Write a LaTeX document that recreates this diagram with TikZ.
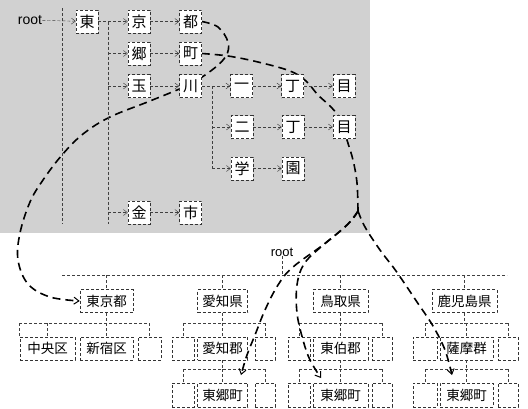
\documentclass[tikz,border=0pt]{standalone}
\usepackage{fontspec}
\setmainfont{Liberation Sans}
\newfontfamily\jp{Noto Sans CJK JP}
\usetikzlibrary{arrows.meta}
\pgfdeclarelayer{back}
\pgfdeclarelayer{curves}
\pgfsetlayers{back,curves,main}
\begin{document}
\begin{tikzpicture}[x=1pt,y=-1pt,
  tbox/.style={draw=black!80, densely dashed, line width=0.55pt, fill=white, minimum width=22pt, minimum height=23pt, inner sep=0pt, font=\jp\fontsize{15}{15}\selectfont},
  tline/.style={draw=black!75, densely dashed, line width=0.45pt},
  tarr/.style={tline, -{Straight Barb[length=4pt,width=6pt]}},
  bbox/.style={draw=black!80, densely dashed, line width=0.55pt, minimum height=23pt, inner sep=0pt, font=\jp\fontsize{13.5}{13.5}\selectfont},
  ebox/.style={bbox, minimum width=22pt},
  bline/.style={draw=black!75, densely dashed, line width=0.45pt},
  big/.style={draw=black, line width=1.6pt, dash pattern=on 8pt off 5pt},
  bigarr/.style={big, -{Straight Barb[length=5pt,width=7pt,line width=1pt]}},
  lbl/.style={inner sep=0pt}
]
\useasboundingbox (0,0) rectangle (528,408);
\begin{pgfonlayer}{back}
\fill[black!18] (0,0) rectangle (370,233);
\end{pgfonlayer}

% ---------- trie ----------
\node[lbl, font=\fontsize{14}{14}\selectfont] (root1) at (30,20) {root};
\node[tbox] (t1) at (87,21.5) {東};
\node[tbox] (kyo) at (139,21.5) {京};
\node[tbox] (to) at (190.5,21.5) {都};
\node[tbox] (gou) at (139,53.5) {郷};
\node[tbox] (machi) at (190.5,53.5) {町};
\node[tbox] (tama) at (139,86) {玉};
\node[tbox] (kawa) at (190.5,86) {川};
\node[tbox] (ichi) at (241.5,86) {一};
\node[tbox] (cho1) at (292.5,86) {丁};
\node[tbox] (me1) at (344,86) {目};
\node[tbox] (ni) at (242,127) {二};
\node[tbox] (cho2) at (293,127) {丁};
\node[tbox] (me2) at (344,127) {目};
\node[tbox] (gaku) at (242,168.5) {学};
\node[tbox] (en) at (293,168.5) {園};
\node[tbox] (kin) at (139,212.5) {金};
\node[tbox] (shi) at (190.5,212.5) {市};

\coordinate (v0a) at (62,8);
\coordinate (v0b) at (62,224);
\coordinate (b1) at (108,21.5);
\coordinate (b1e) at (108,224);
\coordinate (b2) at (212,86);
\coordinate (b2e) at (212,168.5);

\draw[tline] (v0a) -- (v0b);
\draw[tarr] (root1) -- (t1);
\draw[tarr] (t1) -- (kyo);
\draw[tline] (b1) -- (b1e);
\draw[tarr] (b1 |- gou) -- (gou);
\draw[tarr] (b1 |- tama) -- (tama);
\draw[tarr] (b1 |- kin) -- (kin);
\draw[tarr] (kyo) -- (to);
\draw[tarr] (gou) -- (machi);
\draw[tarr] (tama) -- (kawa);
\draw[tarr] (kin) -- (shi);
\draw[tarr] (kawa) -- (ichi);
\draw[tarr] (ichi) -- (cho1);
\draw[tarr] (cho1) -- (me1);
\draw[tline] (b2) -- (b2e);
\draw[tarr] (b2 |- ni) -- (ni);
\draw[tarr] (b2e) -- (gaku);
\draw[tarr] (ni) -- (cho2);
\draw[tarr] (cho2) -- (me2);
\draw[tarr] (gaku) -- (en);

% ---------- bottom tree ----------
\node[lbl, font=\fontsize{13}{13}\selectfont] (root2) at (282,252) {root};
\coordinate (hl) at (62,275);
\coordinate (hr) at (507,275);

\node[bbox, minimum width=53pt] (tokyo) at (106.5,301) {東京都};
\node[bbox, minimum width=50pt] (aichi) at (222.5,301) {愛知県};
\node[bbox, minimum width=55pt] (tottori) at (340.5,301) {鳥取県};
\node[bbox, minimum width=65pt] (kago) at (464.5,301) {鹿児島県};

\node[bbox, minimum width=55pt] (chuo) at (47.5,348.5) {中央区};
\node[bbox, minimum width=53pt] (shinj) at (106.5,348.5) {新宿区};
\node[ebox, minimum width=23pt] (e1) at (149.5,348.5) {};

\node[ebox] (e2) at (183,348.5) {};
\node[bbox, minimum width=50pt] (aichig) at (222.5,348.5) {愛知郡};
\node[ebox, minimum width=20pt] (e3) at (265,348.5) {};

\node[ebox] (e4) at (299,348.5) {};
\node[bbox, minimum width=55pt] (tohaku) at (340.5,348.5) {東伯郡};
\node[ebox, minimum width=20pt] (e5) at (382,348.5) {};

\node[ebox, minimum width=24pt] (e6) at (425,348.5) {};
\node[bbox, minimum width=53pt] (satsu) at (466.5,348.5) {薩摩群};
\node[ebox, minimum width=20pt] (e7) at (508,348.5) {};

\node[ebox, minimum height=24pt] (f1) at (183,395) {};
\node[bbox, minimum width=50pt, minimum height=24pt] (tg1) at (222.5,395) {東郷町};
\node[ebox, minimum width=20pt, minimum height=24pt] (f2) at (265,395) {};

\node[ebox, minimum height=24pt] (f3) at (299,395) {};
\node[bbox, minimum width=55pt, minimum height=24pt] (tg2) at (340.5,395) {東郷町};
\node[ebox, minimum width=20pt, minimum height=24pt] (f4) at (382,395) {};

\node[ebox, minimum width=24pt, minimum height=24pt] (f5) at (425,395) {};
\node[bbox, minimum width=53pt, minimum height=24pt] (tg3) at (466.5,395) {東郷町};
\node[ebox, minimum width=20pt, minimum height=24pt] (f6) at (508,395) {};

\draw[bline] (hl) -- (hr);
\draw[bline] (root2.south) -- (root2.south |- hl);
\foreach \n in {tokyo,aichi,tottori,kago}
  \draw[bline] (\n.north |- hl) -- (\n.north);

% level 2 bars
\coordinate (g1l) at (19,323);   \coordinate (g1r) at (149.5,323);
\coordinate (g2l) at (183,323);  \coordinate (g2r) at (265,323);
\coordinate (g3l) at (299,323);  \coordinate (g3r) at (382,323);
\coordinate (g4l) at (425,323);  \coordinate (g4r) at (508,323);
\draw[bline] (g1l) -- (g1r);
\draw[bline] (g2l) -- (g2r);
\draw[bline] (g3l) -- (g3r);
\draw[bline] (g4l) -- (g4r);
\draw[bline] (tokyo.south) -- (tokyo.south |- g1l);
\draw[bline] (aichi.south) -- (aichi.south |- g1l);
\draw[bline] (tottori.south) -- (tottori.south |- g1l);
\draw[bline] (kago.south) -- (kago.south |- g1l);
\draw[bline] (g1l) -- (g1l |- chuo.north);
\foreach \n in {chuo,shinj,e1,e2,aichig,e3,e4,tohaku,e5,e6,satsu,e7}
  \draw[bline] (\n.north |- g1l) -- (\n.north);

% level 3 bars
\coordinate (h2l) at (183,369);  \coordinate (h2r) at (265,369);
\coordinate (h3l) at (299,369);  \coordinate (h3r) at (382,369);
\coordinate (h4l) at (425,369);  \coordinate (h4r) at (508,369);
\draw[bline] (h2l) -- (h2r);
\draw[bline] (h3l) -- (h3r);
\draw[bline] (h4l) -- (h4r);
\draw[bline] (aichig.south) -- (aichig.south |- h2l);
\draw[bline] (tohaku.south) -- (tohaku.south |- h2l);
\draw[bline] (satsu.south) -- (satsu.south |- h2l);
\foreach \n in {f1,tg1,f2,f3,tg2,f4,f5,tg3,f6}
  \draw[bline] (\n.north |- h2l) -- (\n.north);

% ---------- pointer curves ----------
\coordinate (sp) at (358,211);
\coordinate (a1) at (241,375);
\coordinate (a2) at (321,378);
\coordinate (a3) at (452,375);
\begin{pgfonlayer}{curves}
\draw[bigarr] plot[smooth, tension=0.6] coordinates {(to.east) (218,27) (228,42) (226,56) (212,70) (188,85) (150,101) (110,117) (83,134) (62,155) (43,180) (30,202) (20,233) (18,260) (28,284) (50,297) (tokyo.west)};
\draw[big] plot[smooth, tension=0.6] coordinates {(machi.east) (228,56) (258,62) (290,71) (306,81) (318,95) (332,108) (342,122) (347,140) (353,160) (357,183) (sp)};
\end{pgfonlayer}
\draw[bigarr] plot[smooth, tension=0.6] coordinates {(sp) (350,222) (327,242) (293,267) (278,285) (265,310) (255,335) (247,355) (a1)};
\draw[bigarr] plot[smooth, tension=0.6] coordinates {(sp) (346,226) (322,246) (304,264) (297,285) (297,313) (303,340) (310,360) (a2)};
\draw[bigarr] plot[smooth, tension=0.6] coordinates {(sp) (365,227) (380,250) (396,271) (417,302) (433,326) (445,350) (a3)};
\end{tikzpicture}
\end{document}
